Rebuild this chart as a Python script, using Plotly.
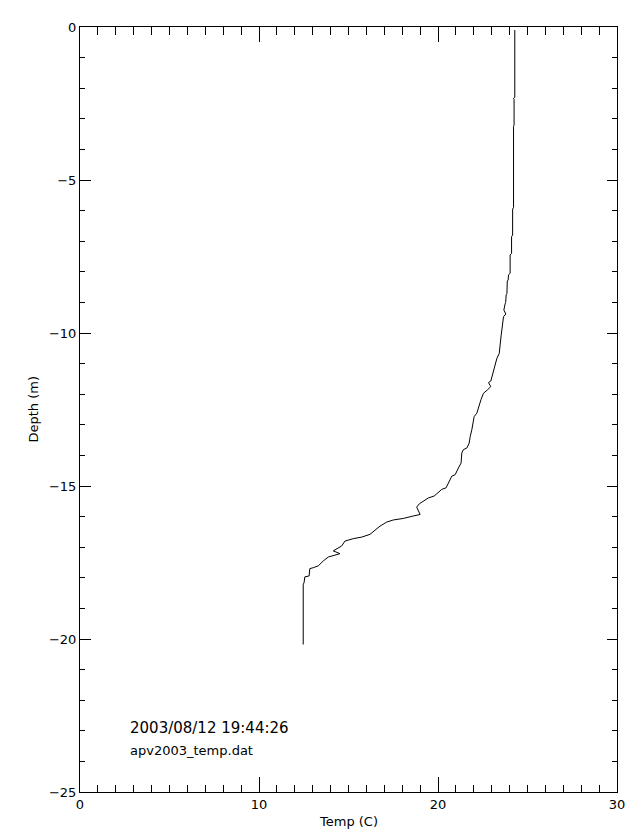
import plotly.graph_objects as go

depth = [-0.1, -2.3, -2.33, -2.37, -3.2, -3.25, -5.9, -5.95, -6.8, -6.85, -7.4, -7.45,
         -8.05, -8.1, -8.27, -8.3, -8.72, -8.75, -9.0, -9.05, -9.25, -9.38, -9.47, -9.7,
         -10.07, -10.39, -10.67, -10.83, -11.1, -11.37, -11.57, -11.62, -11.75, -11.86,
         -11.97, -12.18, -12.4, -12.62, -12.73, -12.89, -13.16, -13.38, -13.6, -13.76,
         -13.81, -13.92, -14.25, -14.41, -14.63, -14.68, -14.84, -15.01, -15.06, -15.11,
         -15.22, -15.33, -15.39, -15.49, -15.58, -15.69, -15.8, -15.93, -15.98, -16.06,
         -16.11, -16.18, -16.31, -16.45, -16.58, -16.67, -16.72, -16.8, -16.88, -16.96,
         -17.12, -17.21, -17.26, -17.32, -17.45, -17.61, -17.67, -17.7, -17.94, -17.97,
         -18.15, -18.23, -20.18]
temp = [24.29, 24.29, 24.22, 24.25, 24.25, 24.22, 24.22, 24.17, 24.17, 24.11, 24.11, 24.03,
        24.03, 23.94, 23.92, 23.87, 23.85, 23.81, 23.78, 23.75, 23.68, 23.79, 23.66, 23.6,
        23.53, 23.47, 23.42, 23.29, 23.16, 23.07, 22.95, 22.82, 22.95, 22.76,
        22.54, 22.4, 22.3, 22.17, 22.02, 21.98, 21.89, 21.8, 21.74, 21.61,
        21.42, 21.33, 21.29, 21.14, 20.96, 20.77, 20.64, 20.53, 20.45, 20.21,
        20.02, 19.78, 19.46, 19.18, 18.96, 18.81, 18.9, 19.0, 18.62, 18.06,
        17.5, 17.13, 16.76, 16.48, 16.2, 15.74, 15.27, 14.8, 14.71, 14.62,
        14.15, 14.52, 14.24, 13.87, 13.59, 13.31, 13.03, 12.84, 12.8, 12.56,
        12.52, 12.47, 12.47]

x_title = "Temp (C)"
y_title = "Depth (m)"
stamp = "2003/08/12 19:44:26"
fname = "apv2003_temp.dat"

FONT = "DejaVu Sans"

fig = go.Figure()
fig.add_trace(go.Scatter(x=temp, y=depth, mode="lines",
                         line=dict(color="black", width=1), showlegend=False,
                         hoverinfo="skip"))

common = dict(showline=True, linecolor="black", linewidth=1, mirror="ticks",
              ticks="inside", tickcolor="black", tickwidth=1, showgrid=False,
              zeroline=False, tickfont=dict(family=FONT, size=13, color="black"))

fig.update_xaxes(range=[0, 30], dtick=10, tick0=0, ticklen=15,
                 minor=dict(dtick=1, ticklen=7.5, ticks="inside", tickcolor="black",
                            tickwidth=1, showgrid=False),
                 **common)
fig.update_yaxes(range=[-25, 0], dtick=5, tick0=0, ticklen=10.5,
                 minor=dict(dtick=1, ticklen=5.4, ticks="inside", tickcolor="black",
                            tickwidth=1, showgrid=False),
                 **common)

PW, PH = 537.0, 768.0
fig.add_annotation(text=x_title, xref="paper", yref="paper", x=0.5, y=-0.039,
                   xanchor="center", yanchor="middle", showarrow=False,
                   font=dict(family=FONT, size=13, color="black"))
fig.add_annotation(text=y_title, xref="paper", yref="paper", x=(33 - 80) / PW, y=0.5,
                   xanchor="center", yanchor="middle", textangle=-90, showarrow=False,
                   font=dict(family=FONT, size=13, color="black"))
fig.add_annotation(text=stamp, xref="paper", yref="paper", x=(128 - 80) / PW,
                   y=(792 - 728) / PH, xanchor="left", yanchor="middle", showarrow=False,
                   font=dict(family=FONT, size=15, color="black"))
fig.add_annotation(text=fname, xref="paper", yref="paper", x=(128 - 80) / PW,
                   y=(792 - 750) / PH, xanchor="left", yanchor="middle", showarrow=False,
                   font=dict(family=FONT, size=13, color="black"))

# page body has an 8px default margin, so shift the plot area accordingly
fig.update_layout(width=640, height=840, margin=dict(l=72, r=31, t=16, b=56),
                  paper_bgcolor="white", plot_bgcolor="white",
                  font=dict(family=FONT, size=13, color="black"))

fig.write_html("out.html")
